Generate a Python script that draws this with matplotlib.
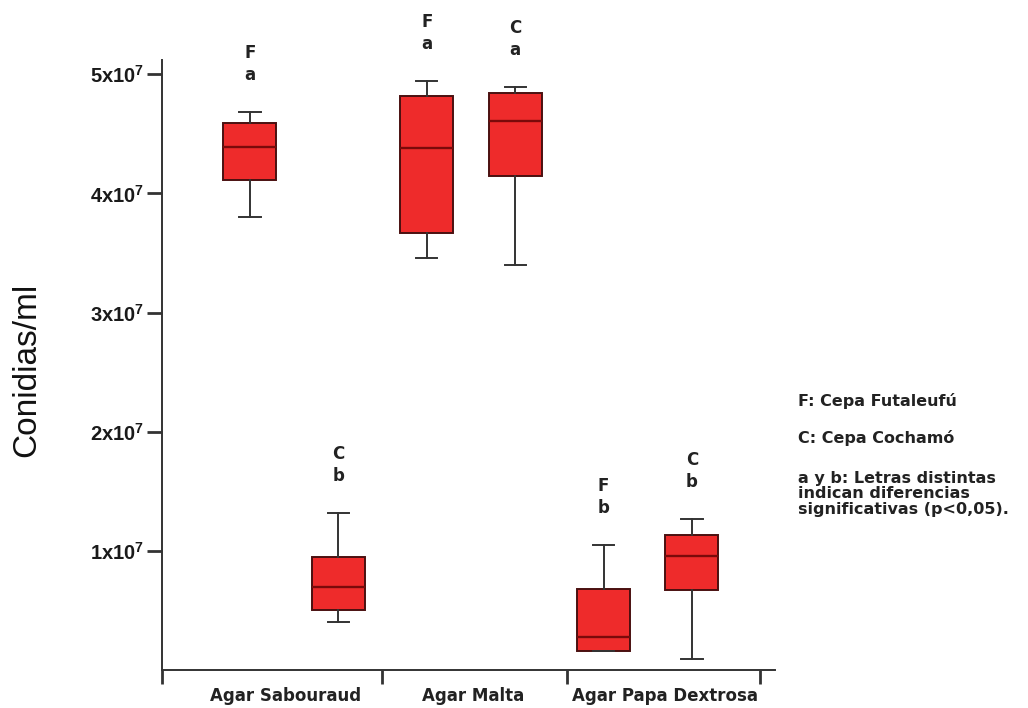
import matplotlib
matplotlib.use("Agg")
import matplotlib.pyplot as plt
from matplotlib.ticker import FixedLocator

plt.rcParams['mathtext.fontset'] = 'custom'
plt.rcParams['mathtext.rm'] = 'Liberation Sans:bold'
plt.rcParams['mathtext.default'] = 'regular'

# ---- data (values in units of 1e7 conidias/ml) ----
categories = ["Agar Sabouraud", "Agar Malta", "Agar Papa Dextrosa"]
strains = ["F", "C", "F", "C", "F", "C"]
sig_letters = ["a", "b", "a", "a", "b", "b"]
whisker_low = [3.80, 0.40, 3.46, 3.40, 0.16, 0.09]
q1 = [4.11, 0.50, 3.67, 4.15, 0.16, 0.67]
median = [4.39, 0.70, 4.38, 4.61, 0.28, 0.96]
q3 = [4.59, 0.95, 4.82, 4.84, 0.68, 1.13]
whisker_high = [4.68, 1.32, 4.94, 4.89, 1.05, 1.27]
ytick_values = [1, 2, 3, 4, 5]
ytick_labels = ["1x10$^7$", "2x10$^7$", "3x10$^7$", "4x10$^7$", "5x10$^7$"]
legend_lines = ["F: Cepa Futaleufú", "C: Cepa Cochamó",
                "a y b: Letras distintas\nindican diferencias\nsignificativas (p<0,05)."]

SCALE = 1e7

fig = plt.figure(figsize=(10.28, 7.08), dpi=100)
W, H = 1028, 708
left_px, right_px, top_px, bot_px = 162, 775, 60, 670
ax = fig.add_axes([left_px / W, 1 - bot_px / H, (right_px - left_px) / W, (bot_px - top_px) / H])

stats = []
for i in range(len(median)):
    stats.append(dict(whislo=whisker_low[i] * SCALE, q1=q1[i] * SCALE, med=median[i] * SCALE,
                      q3=q3[i] * SCALE, whishi=whisker_high[i] * SCALE, fliers=[]))
positions = list(range(len(stats)))
ax.bxp(stats, positions=positions, widths=0.6, patch_artist=True, showfliers=False,
       boxprops=dict(facecolor="#ee2b2b", edgecolor="#4a1010", linewidth=1.4),
       medianprops=dict(color="#7a0a0a", linewidth=1.7),
       whiskerprops=dict(color="#333333", linewidth=1.4),
       capprops=dict(color="#333333", linewidth=1.4),
       capwidths=0.24)

ax.set_ylim(0, 5.12 * SCALE)
ax.set_xlim(-0.995, 5.94)

ax.spines['top'].set_visible(False)
ax.spines['right'].set_visible(False)
for s in ('left', 'bottom'):
    ax.spines[s].set_color("#333333")
    ax.spines[s].set_linewidth(1.4)

ax.yaxis.set_major_locator(FixedLocator([v * SCALE for v in ytick_values]))
ax.set_yticklabels(ytick_labels, fontsize=14.5, fontweight='bold', family="Liberation Sans",
                   color="#1a1a1a")
ax.tick_params(axis='y', length=11, width=2, color="#333333", pad=2, direction='out')

# x axis: group separators as ticks, category names in between
sep_positions = [-0.995, 1.49, 3.59, 5.77]
label_positions = [0.40, 2.52, 4.69]
ax.xaxis.set_major_locator(FixedLocator(sep_positions))
ax.set_xticklabels([""] * len(sep_positions))
ax.tick_params(axis='x', length=10, width=2, color="#333333", direction='out')
for lp, name in zip(label_positions, categories):
    ax.text(lp, -0.043, name, transform=ax.get_xaxis_transform(), ha='center', va='center',
            fontsize=12, fontweight='bold', family="DejaVu Sans", color="#222222")

fig.text(27 / W, 1 - 370 / H, "Conidias/ml", rotation=90, ha='center', va='center',
         fontsize=24, family="Liberation Sans", color="#111111")

# annotation letters above whiskers
for i, pos in enumerate(positions):
    ytop = whisker_high[i] * SCALE
    ax.annotate(sig_letters[i], xy=(pos, ytop), xytext=(0, 37), textcoords='offset pixels',
                ha='center', va='center', fontsize=12, fontweight='bold',
                family="DejaVu Sans", color="#222222", annotation_clip=False)
    ax.annotate(strains[i], xy=(pos, ytop), xytext=(0, 59), textcoords='offset pixels',
                ha='center', va='center', fontsize=12, fontweight='bold',
                family="DejaVu Sans", color="#222222", annotation_clip=False)

# explanatory notes at the right
note_kw = dict(ha='left', fontsize=11.5, fontweight='bold', family="DejaVu Sans", color="#222222")
fig.text(798 / W, 1 - 401 / H, legend_lines[0], va='center', **note_kw)
fig.text(798 / W, 1 - 438 / H, legend_lines[1], va='center', **note_kw)
fig.text(798 / W, 1 - 494 / H, legend_lines[2], va='center', linespacing=1.08, **note_kw)

fig.savefig("out.png", dpi=100, facecolor="white")
